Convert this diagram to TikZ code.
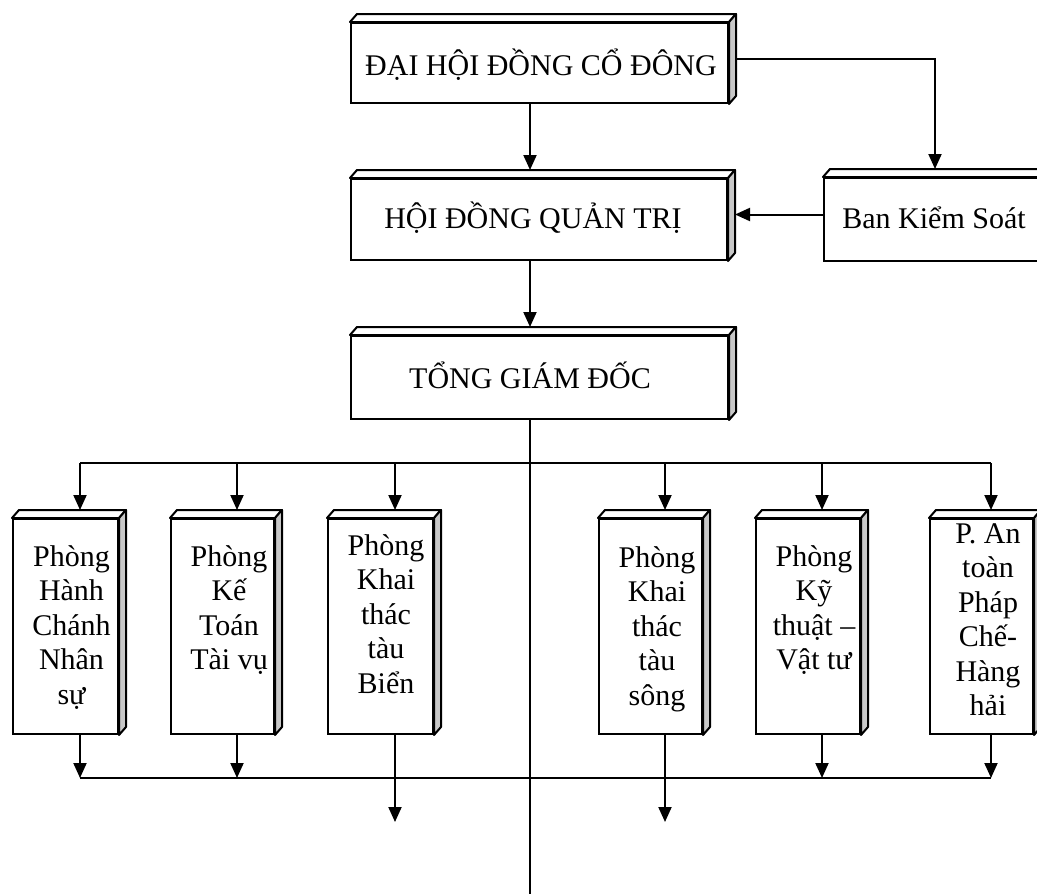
\documentclass[tikz,border=0pt]{standalone}
\usepackage{fontspec}
\setmainfont{Liberation Serif}
\usetikzlibrary{arrows.meta,calc}
\definecolor{sidegray}{RGB}{200,200,200}
\tikzset{
  box/.style={draw, line width=2pt, fill=white, rectangle, inner sep=0pt, anchor=north west},
  face/.style={draw, line width=2pt, line join=round},
  txt/.style={font=\fontsize{30}{34.5}\selectfont, align=center, inner sep=0pt, anchor=base},
  arr/.style={line width=2pt, -{Triangle[length=15pt,width=13pt]}},
  ln/.style={line width=2pt},
}
\begin{document}
\begin{tikzpicture}[x=1pt,y=-1pt]
\path[use as bounding box] (0,0) rectangle (1037,894);
\fill[white] (0,0) rectangle (1037,894);
\clip (0,0) rectangle (1037,894);

% boxes
\node[box, minimum width=377pt, minimum height=80pt] (dh)  at (350,22) {};
\node[box, minimum width=376pt, minimum height=81pt] (hd)  at (350,178) {};
\node[box, minimum width=222pt, minimum height=83pt] (bks) at (823,177) {};
\node[box, minimum width=377pt, minimum height=83pt] (tgd) at (350,335) {};
\node[box, minimum width=105pt, minimum height=215pt] (p1) at (12,518) {};
\node[box, minimum width=103pt, minimum height=215pt] (p2) at (170,518) {};
\node[box, minimum width=105pt, minimum height=215pt] (p3) at (327,518) {};
\node[box, minimum width=103pt, minimum height=215pt] (p4) at (598,518) {};
\node[box, minimum width=104pt, minimum height=215pt] (p5) at (755,518) {};
\node[box, minimum width=103pt, minimum height=215pt] (p6) at (929,518) {};

% 3D faces
\foreach \n in {dh,hd,bks,tgd,p1,p2,p3,p4,p5,p6}{
  \draw[face, fill=white] (\n.north west) -- ++(7,-8) -- ($(\n.north east)+(7,-8)$) -- (\n.north east) -- cycle;
  \draw[face, fill=sidegray] (\n.north east) -- ++(7,-8) -- ($(\n.south east)+(7,-8)$) -- (\n.south east) -- cycle;
}

% texts (base anchor = baseline of last line)
\node[txt] (tdh)  at (541,75)  {ĐẠI HỘI ĐỒNG CỔ ĐÔNG};
\node[txt] (thd)  at (533,228) {HỘI ĐỒNG QUẢN TRỊ};
\node[txt] (tbks) at (934,228) {Ban Kiểm Soát};
\node[txt] (ttgd) at (530,388) {TỔNG GIÁM ĐỐC};
\node[txt] (tp1) at (71.5,704) {Phòng\\Hành\\Chánh\\Nhân\\sự};
\node[txt] (tp2) at (229,669.5)  {Phòng\\Kế\\Toán\\Tài vụ};
\node[txt] (tp3) at (386,693)  {Phòng\\Khai\\thác\\tàu\\Biển};
\node[txt] (tp4) at (657,705)  {Phòng\\Khai\\thác\\tàu\\sông};
\node[txt] (tp5) at (814,669.5)  {Phòng\\Kỹ\\thuật –\\Vật tư};
\node[txt] (tp6) at (988,715.5)  {P. An\\toàn\\Pháp\\Chế-\\Hàng\\hải};

% coordinates
\coordinate (mx) at (530,894);
\coordinate (d1) at (80,463);
\coordinate (d2) at (237,463);
\coordinate (d3) at (395,463);
\coordinate (d4) at (665,463);
\coordinate (d5) at (822,463);
\coordinate (d6) at (991,463);
\coordinate (e1) at (80,778);
\coordinate (e2) at (237,778);
\coordinate (e5) at (822,778);
\coordinate (e6) at (991,778);
\coordinate (f3) at (395,822);
\coordinate (f4) at (665,822);

% upper connectors
\draw[arr] (dh.south -| mx) -- ($(hd.north -| mx)+(0,-8)$);
\draw[arr] ($(dh.east)+(7,-4)$) -| ($(bks.north)+(0,-8)$);
\draw[arr] ($(bks.west)+(0,-5)$) -- ($(hd.east)+(7,-5)$);
\draw[arr] (hd.south -| mx) -- ($(tgd.north -| mx)+(0,-8)$);
\draw[ln] (tgd.south -| mx) -- (mx);

% top bus
\draw[ln] (d1) -- (d6);
\draw[arr] (d1) -- ($(p1.north -| d1)+(0,-8)$);
\draw[arr] (d2) -- ($(p2.north -| d2)+(0,-8)$);
\draw[arr] (d3) -- ($(p3.north -| d3)+(0,-8)$);
\draw[arr] (d4) -- ($(p4.north -| d4)+(0,-8)$);
\draw[arr] (d5) -- ($(p5.north -| d5)+(0,-8)$);
\draw[arr] (d6) -- ($(p6.north -| d6)+(0,-8)$);

% bottom bus
\draw[ln] (e1) -- (e6);
\draw[arr] (p1.south -| e1) -- (e1);
\draw[arr] (p2.south -| e2) -- (e2);
\draw[arr] (p3.south -| f3) -- (f3);
\draw[arr] (p4.south -| f4) -- (f4);
\draw[arr] (p5.south -| e5) -- (e5);
\draw[arr] (p6.south -| e6) -- (e6);
\end{tikzpicture}
\end{document}
